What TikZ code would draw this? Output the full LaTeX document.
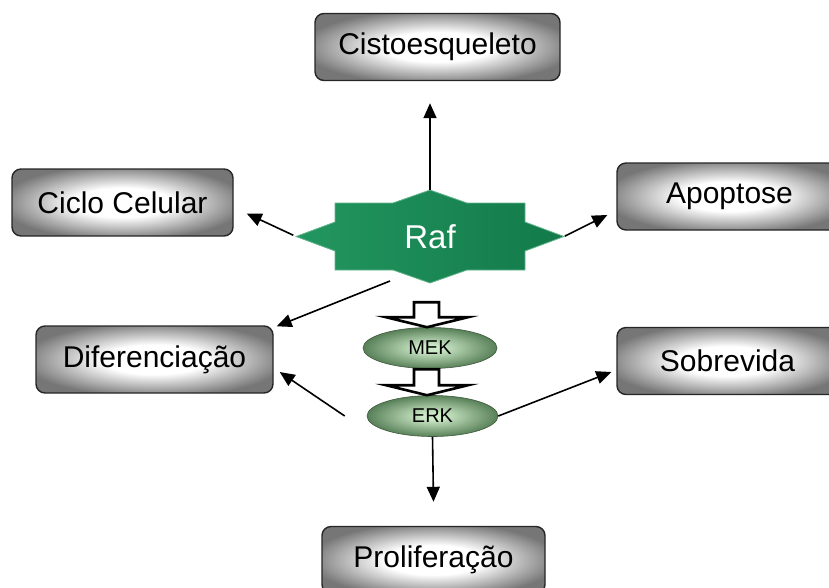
\documentclass[tikz,border=0pt]{standalone}
\usepackage{fontspec}
\setmainfont{Liberation Sans}
\usepackage{tikz}
\usetikzlibrary{shapes.geometric,arrows.meta,calc}

\definecolor{rafgreen}{RGB}{35,150,95}
\definecolor{rafdark}{RGB}{18,122,74}
\definecolor{kinin}{RGB}{205,234,200}
\definecolor{kinout}{RGB}{88,128,88}
\definecolor{boxgray}{RGB}{118,118,118}
\pgfdeclareradialshading{boxglow}{\pgfpoint{0bp}{0bp}}{color(0bp)=(white); color(11bp)=(white); color(28bp)=(boxgray); color(50bp)=(boxgray)}
\pgfdeclareradialshading{kinglow}{\pgfpoint{0bp}{0bp}}{color(0bp)=(kinin); color(4bp)=(kinin); color(25bp)=(kinout); color(50bp)=(kinout)}

\begin{document}
\begin{tikzpicture}[x=1pt,y=-1pt,
        outcome/.style={draw=black!85,line width=1.4pt,rounded corners=9pt,shade,shading=boxglow,
            minimum height=67pt,inner sep=0pt,font=\fontsize{30}{36}\selectfont},
        kinase/.style={ellipse,draw=kinout!70!black,line width=0.6pt,shade,shading=kinglow,
            inner sep=0pt,minimum height=41pt,font=\fontsize{20}{24}\selectfont},
        conn/.style={line width=1.6pt,-{Triangle[length=15pt,width=13pt]}},
        hollow/.style={draw=black,fill=white,line width=2.6pt,line join=miter},
        rafstar/.style={left color=rafgreen,right color=rafdark,draw=rafgreen!70!white,line width=0.8pt}]
            \useasboundingbox (0,0) rectangle (829,587);
            \clip (0,0) rectangle (829,587);

            \node[outcome,minimum width=245pt] (cito) at (437.5,47) {Cistoesqueleto};
            \node[outcome,minimum width=221pt] (ciclo) at (122.5,202.5) {Ciclo Celular};
            \node[outcome,minimum width=225pt] (apop) at (729.5,196.5) {Apoptose};
            \node[outcome,minimum width=237pt] (dife) at (154.5,359.5) {Diferenciação};
            \node[outcome,minimum width=221pt] (sobr) at (727.5,361) {Sobrevida};
            \node[outcome,minimum width=223pt] (prol) at (433.5,560) {Proliferação};

            \coordinate (raf) at (430,236.5);
            \path[rafstar,shift={(raf)}] (-95,-33.5) -- (-37,-33.5) -- (0,-46.5) coordinate (raftop)
                -- (37,-33.5) -- (95,-33.5) -- (95,-14.5) -- (134,0) coordinate (rafright)
                -- (95,14.5) -- (95,33.5) -- (37,33.5) -- (0,46.5) -- (-37,33.5) -- (-95,33.5)
                -- (-95,14.5) -- (-134,0) coordinate (rafleft) -- (-95,-14.5) -- cycle;
            \coordinate (rafbelow) at ($(raf)+(-40,44.5)$);
            \node[text=white,font=\fontsize{33}{40}\selectfont] (raflabel) at (raf) {Raf};

            \node[kinase,minimum width=134pt] (mek) at (430,348) {MEK};
            \node[kinase,minimum width=131pt] (erk) at (432.5,416) {ERK};

            \draw[hollow,shift={([xshift=-3pt]mek.north)}] (-13,-25) -- (12,-25) -- (12,-10) -- (41,-10)
                -- (0,0) -- (-41,-10) -- (-13,-10) -- cycle;
            \draw[hollow,shift={([xshift=-5.5pt]erk.north)}] (-13,-26) -- (12,-26) -- (12,-10) -- (41,-10)
                -- (0,0) -- (-41,-10) -- (-13,-10) -- cycle;

            \draw[conn] (raftop) -- ([shift={(-7.5,22)}]cito.south);
            \draw[conn,shorten <=3pt] (rafleft) -- ([shift={(13,11)}]ciclo.east);
            \draw[conn,shorten <=1pt] (rafright) -- ([shift={(-9,18.5)}]apop.west);
            \draw[conn] (rafbelow) -- ([shift={(3,1)}]dife.north east);
            \draw[conn] ([xshift=-22pt]erk.west) -- ([shift={(6,12.5)}]dife.east);
            \draw[conn] (erk.east) -- ([shift={(-5,11)}]sobr.west);
            \draw[conn] (erk.south) -- ([shift={(0,-24)}]prol.north);
        \end{tikzpicture}
\end{document}
